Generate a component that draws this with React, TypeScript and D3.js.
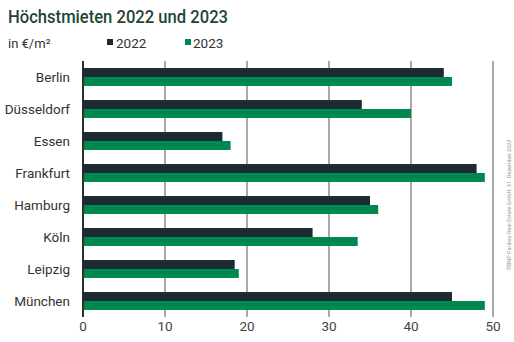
import React from "react";
import * as d3 from "d3";

const cities = ["Berlin", "Düsseldorf", "Essen", "Frankfurt", "Hamburg", "Köln", "Leipzig", "München"];
const rent2022 = [44, 34, 17, 48, 35, 28, 18.5, 45];
const rent2023 = [45, 40, 18, 49, 36, 33.5, 19, 49];
const ticks = [0, 10, 20, 30, 40, 50];

const DARK = "#1d2a32";
const GREEN = "#00894f";
const font = "Roboto, 'Noto Sans', sans-serif";

const App = () => {
  const width = 514;
  const height = 342;
  const left = 83;
  const right = 493;
  const top = 61;
  const bottom = 317;

  const x = d3.scaleLinear().domain([0, 50]).range([left, right]);
  const y = d3.scaleBand<string>()
    .domain(cities)
    .range([top, bottom])
    .paddingInner(0.44)
    .paddingOuter(0.22);
  const bh = y.bandwidth() / 2;

  return (
    <svg width={width} height={height} style={{ position: "absolute", left: 0, top: 0, background: "white" }}>
      <text x={8} y={23} fontFamily={font} fontSize="18.5" fontWeight="500" fill="#1f4536"
        textLength={220} lengthAdjust="spacingAndGlyphs">
        Höchstmieten 2022 und 2023
      </text>
      <text x={8} y={48} fontFamily={font} fontSize="13" fill="#333">in €/m²</text>

      <rect x={107} y={39} width={6} height={6} fill={DARK} />
      <text x={116} y={48} fontFamily={font} fontSize="13.5" fill="#333">2022</text>
      <rect x={185} y={39} width={6} height={6} fill={GREEN} />
      <text x={193} y={48} fontFamily={font} fontSize="13.5" fill="#333">2023</text>

      {ticks.map((t) => (
        <g key={t}>
          <line x1={x(t)} x2={x(t)} y1={top} y2={bottom} stroke={t === 0 ? "#222" : "#7a7a7a"} strokeWidth={t === 0 ? 1.5 : 1.3} />
          <text x={x(t)} y={331} textAnchor="middle" fontFamily={font} fontSize="13.5" fill="#444">{t}</text>
        </g>
      ))}

      {cities.map((c, i) => (
        <g key={c}>
          <rect x={x(0)} y={y(c)} width={x(rent2022[i]) - x(0)} height={bh} fill={DARK} />
          <rect x={x(0)} y={(y(c) as number) + bh} width={x(rent2023[i]) - x(0)} height={bh} fill={GREEN} />
          <text x={70} y={(y(c) as number) + bh} dy="0.35em" textAnchor="end" fontFamily={font} fontSize="13.5" fill="#333">{c}</text>
        </g>
      ))}

      <line x1={x(0)} x2={x(0)} y1={top} y2={bottom} stroke="#222" strokeWidth={1.5} />

      <text transform="translate(511, 205) rotate(-90)" textAnchor="middle" fontFamily={font} fontSize="5.5" fill="#999">
        ©BNP Paribas Real Estate GmbH, 31. Dezember 2023
      </text>
    </svg>
  );
};

export default App;
